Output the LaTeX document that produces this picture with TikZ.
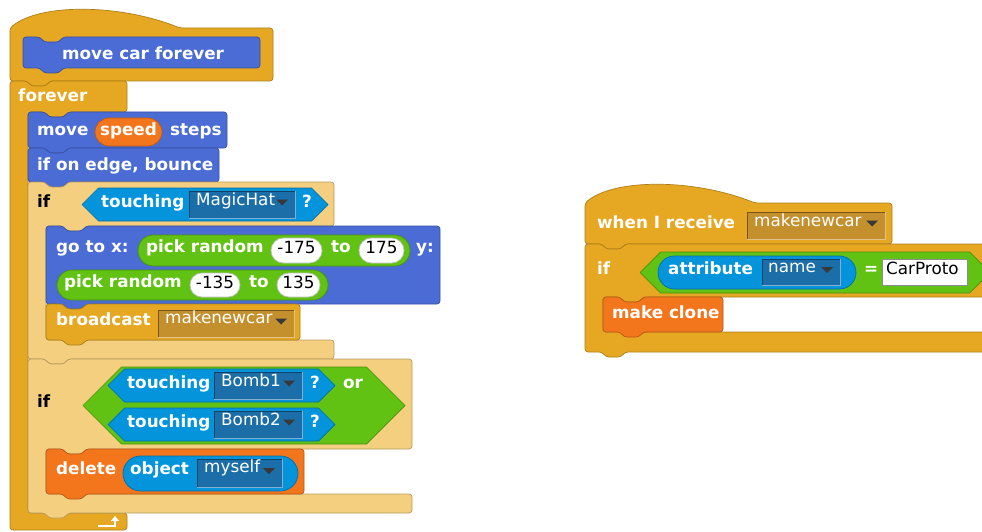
\documentclass[tikz,border=0pt]{standalone}
\usepackage{fontspec}
\setmainfont{DejaVu Sans}
\usetikzlibrary{arrows.meta}

% block palette
\definecolor{ctrl}{HTML}{E6A822}
\definecolor{ctrllight}{HTML}{F5CF80}
\definecolor{motion}{HTML}{4A6CD4}
\definecolor{oper}{HTML}{62C213}
\definecolor{sens}{HTML}{0494DC}
\definecolor{other}{HTML}{F3761D}
\definecolor{sensslot}{HTML}{1C6EA8}
\definecolor{ctrlslot}{HTML}{C4902E}

\tikzset{
  blk/.style={rounded corners=3pt, line width=0.7pt, line join=round},
  lbl/.style={anchor=mid west, inner sep=0pt, text=white,
              font=\fontsize{16.8}{19}\selectfont\bfseries},
  dlbl/.style={lbl, text=black},
  slottxt/.style={anchor=mid west, inner sep=0pt, text=white,
              font=\fontsize{16.8}{19}\selectfont},
  numtxt/.style={anchor=mid, inner sep=0pt, text=black,
              font=\fontsize{16.8}{19}\selectfont},
}

% command block: left, top, right, bottom, colour (notch on top, tab below)
\newcommand\cmdblock[5]{%
  \filldraw[blk, fill=#5, draw=#5!75!black]
    (#1,#2) -- ({#1+17},#2) -- ({#1+21},{#2+5}) -- ({#1+36},{#2+5}) -- ({#1+40},#2)
    -- (#3,#2) -- (#3,#4)
    -- ({#1+40},#4) -- ({#1+36},{#4+5}) -- ({#1+21},{#4+5}) -- ({#1+17},#4)
    -- (#1,#4) -- cycle;}

% C-shaped block: left, top, top-bar right, top-bar bottom, bottom-bar top,
% bottom-bar right, bottom, colour
\newcommand\cblock[8]{%
  \filldraw[blk, fill=#8, draw=#8!75!black]
    (#1,#2) -- ({#1+17},#2) -- ({#1+21},{#2+5}) -- ({#1+36},{#2+5}) -- ({#1+40},#2)
    -- (#3,#2) -- (#3,#4)
    -- ({#1+58},#4) -- ({#1+54},{#4+5}) -- ({#1+39},{#4+5}) -- ({#1+35},#4)
    -- ({#1+18},#4) -- ({#1+18},#5) -- (#6,#5) -- (#6,#7)
    -- ({#1+40},#7) -- ({#1+36},{#7+5}) -- ({#1+21},{#7+5}) -- ({#1+17},#7)
    -- (#1,#7) -- cycle;}

% hat block: left, body top, right, bottom, colour
\newcommand\hatblock[5]{%
  \filldraw[blk, fill=#5, draw=#5!75!black]
    (#1,#4) -- (#1,#2) .. controls ({#1+30},{#2-25}) and ({#1+110},{#2-24}) .. ({#1+170},#2)
    -- (#3,#2) -- (#3,#4)
    -- ({#1+40},#4) -- ({#1+36},{#4+5}) -- ({#1+21},{#4+5}) -- ({#1+17},#4)
    -- cycle;}

% predicate (hexagon): left, top, right, bottom, colour
\newcommand\hexa[5]{%
  \pgfmathsetmacro\hxm{(#2+#4)/2}\pgfmathsetmacro\hxs{(#4-#2)/2}%
  \filldraw[fill=#5, draw=#5!75!black, line width=0.7pt, line join=round]
    (#1,\hxm) -- ({#1+\hxs},#2) -- ({#3-\hxs},#2) -- (#3,\hxm)
    -- ({#3-\hxs},#4) -- ({#1+\hxs},#4) -- cycle;}

% reporter (rounded ends): left, top, right, bottom, colour
\newcommand\pill[5]{%
  \pgfmathsetmacro\plr{(#4-#2)/2-0.05}%
  \filldraw[fill=#5, draw=#5!75!black, line width=0.7pt, rounded corners=\plr pt]
    (#1,#2) rectangle (#3,#4);}

% drop-down slot: left, top, right, bottom, colour
\newcommand\ddslot[5]{%
  \fill[#5] (#1,#2) rectangle (#3,#4);
  \draw[#5!60!black, line width=1pt] (#1,#4) -- (#1,#2) -- (#3,#2);
  \draw[#5!55!white, line width=1pt] (#3,#2) -- (#3,#4) -- (#1,#4);
  \pgfmathsetmacro\ddm{(#2+#4)/2-2}%
  \fill[black!78] ({#3-19},{\ddm-3}) -- ({#3-7},{\ddm-3}) -- ({#3-13},{\ddm+3}) -- cycle;}

\begin{document}
\begin{tikzpicture}[x=1pt,y=-1pt]
\useasboundingbox (0,0) rectangle (982,532);
\clip (0,0) rectangle (982,532);

%% ---------------- custom block definition script ----------------
\hatblock{10}{28}{273}{81}{ctrl}
\cmdblock{23}{37}{260}{68}{motion}
\node[lbl] (protolbl) at (62,57) {move car forever};

% forever loop (cap block, no tab below)
\filldraw[blk, fill=ctrl, draw=ctrl!75!black]
  (10,81) -- (27,81) -- (31,86) -- (46,86) -- (50,81) -- (127,81) -- (127,112)
  -- (68,112) -- (64,117) -- (49,117) -- (45,112) -- (28,112)
  -- (28,513) -- (127,513) -- (127,530) -- (10,530) -- cycle;
\node[lbl] (foreverlbl) at (18,99) {forever};
\draw[white, line width=2pt, -{Triangle[length=5pt,width=8pt]}]
  (98,526) -- (115,526) -- (115,516);

% move (speed) steps
\cmdblock{28}{112}{227}{148}{motion}
\node[lbl] (movelbl) at (37,133) {move};
\pill{95}{118}{162}{146}{other}
\node[lbl, anchor=mid] (speedlbl) at (128.5,133) {speed};
\node[lbl] (stepslbl) at (170,133) {steps};

% if on edge, bounce
\cmdblock{28}{148}{219}{182}{motion}
\node[lbl] (bouncelbl) at (37,168) {if on edge, bounce};

% first if
\cblock{28}{182}{334}{226}{340}{334}{359}{ctrllight}
\node[dlbl] (iflblA) at (37,205) {if};
\hexa{82}{188}{328}{221}{sens}
\node[lbl] (touchA) at (101,205) {touching};
\ddslot{189}{191}{295}{218}{sensslot}
\node[slottxt] (hatslot) at (196,203) {MagicHat};
\node[lbl] (qA) at (302,205) {?};

% go to x: ... y: ...
\cmdblock{46}{226}{440}{304}{motion}
\node[lbl] (gotolbl) at (56,250) {go to x:};
\pill{138}{235}{410}{266}{oper}
\node[lbl] (randA) at (146,250) {pick random};
\pill{271}{238}{322}{263}{white}
\node[numtxt] (numA) at (296.5,251) {-175};
\node[lbl] (toA) at (331,250) {to};
\pill{359}{238}{404}{263}{white}
\node[numtxt] (numB) at (381.5,251) {175};
\node[lbl] (ylbl) at (416,250) {y:};
\pill{57}{270}{328}{300}{oper}
\node[lbl] (randB) at (64,285) {pick random};
\pill{190}{273}{240}{297}{white}
\node[numtxt] (numC) at (215,286) {-135};
\node[lbl] (toB) at (249,285) {to};
\pill{277}{273}{320}{297}{white}
\node[numtxt] (numD) at (298.5,286) {135};

% broadcast
\cmdblock{46}{304}{300}{340}{ctrl}
\node[lbl] (bcastlbl) at (56,323) {broadcast};
\ddslot{158}{310}{294}{337}{ctrlslot}
\node[slottxt] (bcastslot) at (165,321) {makenewcar};

% second if
\cblock{28}{359}{412}{449}{494}{412}{513}{ctrllight}
\node[dlbl] (iflblB) at (37,405) {if};
\hexa{83}{367}{405}{444}{oper}
\hexa{108}{369}{335}{402}{sens}
\node[lbl] (touchB) at (127,386) {touching};
\ddslot{214}{372}{302}{399}{sensslot}
\node[slottxt] (bombA) at (221,384) {Bomb1};
\node[lbl] (qB) at (310,386) {?};
\node[lbl] (orlbl) at (343,386) {or};
\hexa{108}{408}{335}{441}{sens}
\node[lbl] (touchC) at (127,425) {touching};
\ddslot{214}{411}{302}{438}{sensslot}
\node[slottxt] (bombB) at (221,423) {Bomb2};
\node[lbl] (qC) at (310,425) {?};

% delete object myself
\cmdblock{46}{449}{304}{494}{other}
\node[lbl] (deletelbl) at (56,472) {delete};
\pill{123}{456}{298}{491}{sens}
\node[lbl] (objectlbl) at (130,472) {object};
\ddslot{197}{459}{282}{487}{sensslot}
\node[slottxt] (selfslot) at (204,470) {myself};

%% ---------------- message handler script ----------------
\hatblock{585}{203}{892}{244}{ctrl}
\node[lbl] (recvlbl) at (597,226) {when I receive};
\ddslot{747}{212}{885}{239}{ctrlslot}
\node[slottxt] (recvslot) at (754,224) {makenewcar};

\cblock{585}{244}{1000}{297}{332}{1000}{352}{ctrl}
\node[lbl] (iflblC) at (597,272) {if};
\hexa{640}{252}{990}{293}{oper}
\pill{658}{256}{856}{289}{sens}
\node[lbl] (attrlbl) at (668,272) {attribute};
\ddslot{762}{259}{840}{285}{sensslot}
\node[slottxt] (nameslot) at (768,270) {name};
\node[lbl] (eqlbl) at (864,272) {=};
\filldraw[fill=white, draw=black!45, line width=0.8pt] (882,259) rectangle (967,285);
\node[numtxt, anchor=mid west] (protoname) at (886,272) {CarProto};

\cmdblock{603}{297}{723}{332}{other}
\node[lbl] (clonelbl) at (612,316) {make clone};
\end{tikzpicture}
\end{document}
